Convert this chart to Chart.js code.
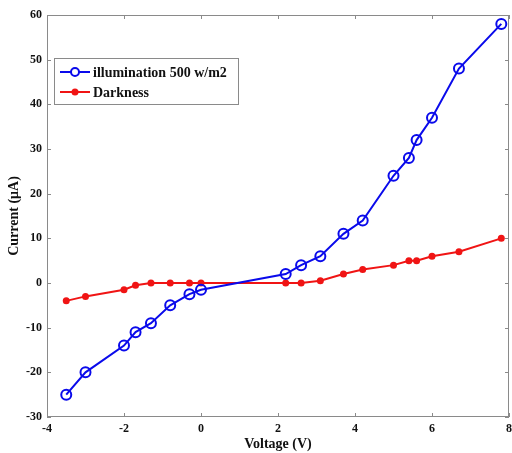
<!DOCTYPE html>
<html>
<head>
<meta charset="utf-8">
<script src="https://cdn.jsdelivr.net/npm/chart.js@4"></script>
<style>
  html, body { margin: 0; padding: 0; background: #fff; }
  #wrap { width: 512px; height: 453px; }
</style>
</head>
<body>
<div id="wrap"><canvas id="c" width="512" height="453"></canvas></div>
<script>
// Applied voltage (V), shared by both measurements
const voltage = [-3.5, -3, -2, -1.7, -1.3, -0.8, -0.3, 0, 2.2, 2.6, 3.1, 3.7, 4.2, 5, 5.4, 5.6, 6, 6.7, 7.8];
// Current (µA) under illumination of 500 W/m2
const currentIlluminated = [-25, -20, -14, -11, -9, -5, -2.5, -1.5, 2, 4, 6, 11, 14, 24, 28, 32, 37, 48, 58];
// Current (µA) in darkness
const currentDark = [-4, -3, -1.5, -0.5, 0, 0, 0, 0, 0, 0, 0.5, 2, 3, 4, 5, 5, 6, 7, 10];

const seriesNames = ['illumination 500 w/m2', 'Darkness'];
const xTicks = [-4, -2, 0, 2, 4, 6, 8];
const yTicks = [-30, -20, -10, 0, 10, 20, 30, 40, 50, 60];

const FONT = '"Liberation Serif", "Times New Roman", serif';
const FRAME = '#8a8a8a';

const toPoints = (xs, ys) => xs.map((x, i) => ({ x, y: ys[i] }));

// Box around the axes plus inward tick marks on all four sides
const framePlugin = {
  id: 'frame',
  afterDraw(chart) {
    const { ctx, chartArea: a, scales } = chart;
    ctx.save();
    ctx.strokeStyle = FRAME;
    ctx.lineWidth = 1;
    ctx.strokeRect(a.left + 0.5, a.top + 0.5, a.right - a.left - 1, a.bottom - a.top - 1);
    const len = 4;
    ctx.beginPath();
    scales.x.ticks.forEach(t => {
      const px = Math.round(scales.x.getPixelForValue(t.value)) + 0.5;
      ctx.moveTo(px, a.bottom); ctx.lineTo(px, a.bottom - len);
      ctx.moveTo(px, a.top); ctx.lineTo(px, a.top + len);
    });
    scales.y.ticks.forEach(t => {
      const py = Math.round(scales.y.getPixelForValue(t.value)) + 0.5;
      ctx.moveTo(a.left, py); ctx.lineTo(a.left + len, py);
      ctx.moveTo(a.right, py); ctx.lineTo(a.right - len, py);
    });
    ctx.stroke();
    ctx.restore();
  }
};

// Legend box in the upper-left of the plot
const legendPlugin = {
  id: 'boxLegend',
  afterDraw(chart) {
    const { ctx } = chart;
    const box = { x: 54, y: 58, w: 184, h: 46 };
    ctx.save();
    ctx.fillStyle = '#fff';
    ctx.fillRect(box.x, box.y, box.w, box.h);
    ctx.strokeStyle = FRAME;
    ctx.lineWidth = 1;
    ctx.strokeRect(box.x + 0.5, box.y + 0.5, box.w, box.h);
    chart.data.datasets.forEach((ds, i) => {
      const cy = box.y + 14 + i * 20;
      const x0 = box.x + 6, x1 = box.x + 36, cx = (x0 + x1) / 2;
      ctx.strokeStyle = ds.borderColor;
      ctx.lineWidth = ds.borderWidth;
      ctx.beginPath();
      ctx.moveTo(x0, cy); ctx.lineTo(x1, cy);
      ctx.stroke();
      ctx.beginPath();
      const r = Math.min(ds.pointRadius, 4);
      ctx.arc(cx, cy, r, 0, Math.PI * 2);
      if (ds.pointBackgroundColor !== 'rgba(0,0,0,0)') {
        ctx.fillStyle = ds.pointBackgroundColor;
        ctx.fill();
      } else {
        ctx.fillStyle = '#fff';
        ctx.fill();
        ctx.lineWidth = ds.pointBorderWidth;
        ctx.stroke();
      }
      ctx.fillStyle = '#111';
      ctx.font = 'bold 14px ' + FONT;
      ctx.textBaseline = 'middle';
      ctx.textAlign = 'left';
      ctx.fillText(ds.label, x1 + 3, cy + 1);
    });
    ctx.restore();
  }
};

new Chart(document.getElementById('c'), {
  type: 'scatter',
  data: {
    datasets: [
      {
        label: seriesNames[0],
        data: toPoints(voltage, currentIlluminated),
        showLine: true,
        borderColor: '#0a0aeb',
        borderWidth: 2,
        pointRadius: 5,
        pointBorderWidth: 2,
        pointBorderColor: '#0a0aeb',
        pointBackgroundColor: 'rgba(0,0,0,0)',
        order: 1
      },
      {
        label: seriesNames[1],
        data: toPoints(voltage, currentDark),
        showLine: true,
        borderColor: '#f01414',
        borderWidth: 2,
        pointRadius: 3.5,
        pointBorderWidth: 0,
        pointBorderColor: '#f01414',
        pointBackgroundColor: '#f01414',
        order: 2
      }
    ]
  },
  options: {
    responsive: false,
    animation: false,
    devicePixelRatio: 1,
    layout: { autoPadding: false, padding: { top: 15, right: 0, left: 0, bottom: 0 } },
    plugins: { legend: { display: false }, tooltip: { enabled: false } },
    scales: {
      x: {
        type: 'linear',
        min: -4, max: 8,
        afterBuildTicks(scale) { scale.ticks = xTicks.map(v => ({ value: v })); },
        afterFit(scale) { scale.height = 36; scale.paddingRight = 3; scale.paddingLeft = 0; },
        grid: { display: false, drawTicks: false },
        border: { display: false },
        ticks: {
          padding: 5,
          color: '#111',
          font: { family: FONT, size: 12, weight: 'bold' }
        },
        title: {
          display: true,
          text: 'Voltage (V)',
          color: '#111',
          padding: { top: 0, bottom: 0 },
          font: { family: FONT, size: 14, weight: 'bold' }
        }
      },
      y: {
        type: 'linear',
        min: -30, max: 60,
        afterBuildTicks(scale) { scale.ticks = yTicks.map(v => ({ value: v })); },
        afterFit(scale) { scale.width = 47; },
        grid: { display: false, drawTicks: false },
        border: { display: false },
        ticks: {
          padding: 5,
          color: '#111',
          font: { family: FONT, size: 12, weight: 'bold' }
        },
        title: {
          display: true,
          text: 'Current (\u03bcA)',
          color: '#111',
          padding: { top: 6, bottom: 0 },
          font: { family: FONT, size: 14, weight: 'bold' }
        }
      }
    }
  },
  plugins: [framePlugin, legendPlugin]
});
</script>
</body>
</html>
